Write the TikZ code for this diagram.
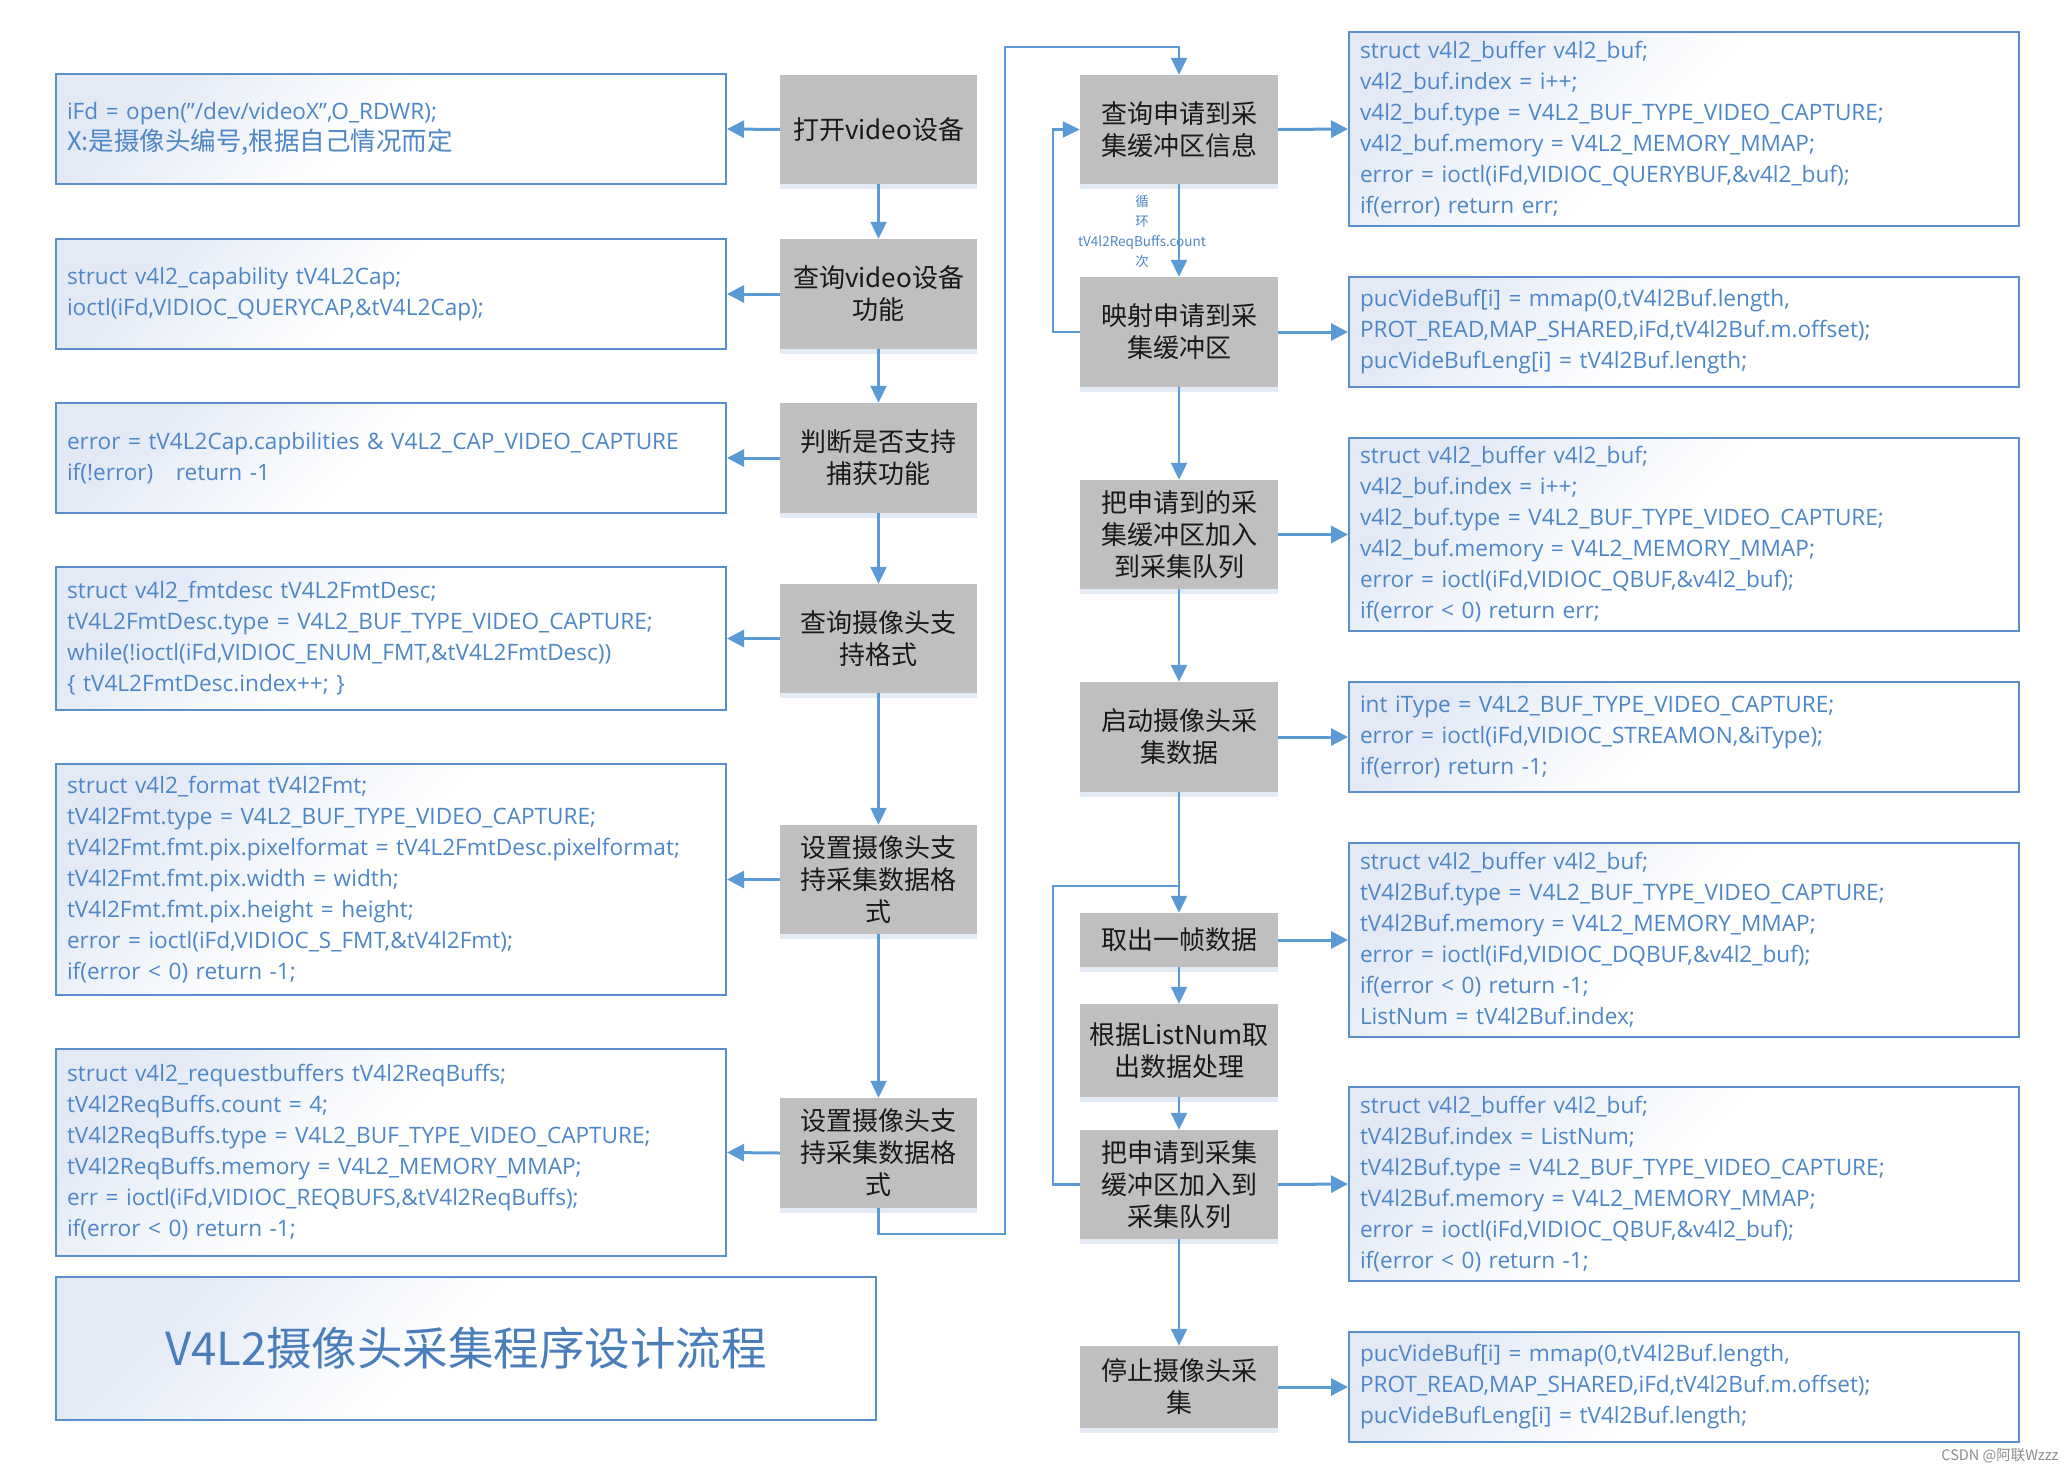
\documentclass[tikz,border=0pt]{standalone}
\usepackage{fontspec}
\setmainfont{Open Sans}
\newfontfamily\cjk{Noto Sans CJK SC}
\usetikzlibrary{arrows.meta,shadows}
\definecolor{arrowblue}{HTML}{5B9BD5}
\definecolor{codeblue}{HTML}{4F86C6}
\definecolor{borderblue}{HTML}{5B8FCB}
\definecolor{grayfill}{HTML}{BFBFBF}
\definecolor{titleblue}{HTML}{4A7EBB}
\definecolor{cgrad}{HTML}{E3EAF6}
\definecolor{shadowc}{HTML}{E4EBF5}
\pgfdeclarehorizontalshading{codegrad}{100bp}{color(0bp)=(cgrad); color(25bp)=(cgrad); color(48bp)=(white); color(100bp)=(white)}
\tikzset{
  codebox/.style={draw=borderblue, line width=2pt, shading=codegrad, shading angle=-45,
    text width=648pt, inner xsep=11pt, inner ysep=0pt, align=left, text=codeblue,
    font=\fontsize{22.6}{31}\selectfont},
  graybox/.style={fill=grayfill, draw=none, minimum width=197pt, inner sep=2pt, align=center,
    font=\cjk\fontsize{26}{32}\selectfont, text=black!90,
    drop shadow={shadow xshift=0pt, shadow yshift=-5pt, fill=shadowc, opacity=1}},
  arrh/.style={-{Triangle[length=17pt,width=17pt]}, draw=arrowblue, line width=3pt},
  arrv/.style={-{Triangle[length=17pt,width=16pt]}, draw=arrowblue, line width=2.2pt},
  lnv/.style={draw=arrowblue, line width=2.2pt},
}
\begin{document}
\begin{tikzpicture}[x=1pt,y=-1pt]
\useasboundingbox (0,0) rectangle (2071,1467);
% left code boxes
\node[codebox, minimum height=110pt] (L1) at (391,129) {iFd = open("/dev/videoX",O\_RDWR);\\{\cjk\fontsize{25.5}{31}\selectfont X:是摄像头编号,根据自己情况而定}};
\node[codebox, minimum height=110pt] (L2) at (391,294) {struct v4l2\_capability tV4L2Cap;\\ioctl(iFd,VIDIOC\_QUERYCAP,\&tV4L2Cap);};
\node[codebox, minimum height=110pt] (L3) at (391,458) {error = tV4L2Cap.capbilities \& V4L2\_CAP\_VIDEO\_CAPTURE\\if(!error)\ \ \ return -1};
\node[codebox, minimum height=143pt] (L4) at (391,638.5) {struct v4l2\_fmtdesc tV4L2FmtDesc;\\tV4L2FmtDesc.type = V4L2\_BUF\_TYPE\_VIDEO\_CAPTURE;\\while(!ioctl(iFd,VIDIOC\_ENUM\_FMT,\&tV4L2FmtDesc))\\\{ tV4L2FmtDesc.index++; \}};
\node[codebox, minimum height=231pt] (L5) at (391,879.5) {struct v4l2\_format tV4l2Fmt;\\tV4l2Fmt.type = V4L2\_BUF\_TYPE\_VIDEO\_CAPTURE;\\tV4l2Fmt.fmt.pix.pixelformat = tV4L2FmtDesc.pixelformat;\\tV4l2Fmt.fmt.pix.width = width;\\tV4l2Fmt.fmt.pix.height = height;\\error = ioctl(iFd,VIDIOC\_S\_FMT,\&tV4l2Fmt);\\if(error < 0) return -1;};
\node[codebox, minimum height=207pt] (L6) at (391,1152.5) {struct v4l2\_requestbuffers tV4l2ReqBuffs;\\tV4l2ReqBuffs.count = 4;\\tV4l2ReqBuffs.type = V4L2\_BUF\_TYPE\_VIDEO\_CAPTURE;\\tV4l2ReqBuffs.memory = V4L2\_MEMORY\_MMAP;\\err = ioctl(iFd,VIDIOC\_REQBUFS,\&tV4l2ReqBuffs);\\if(error < 0) return -1;};
% title
\node[codebox, text width=798pt, minimum height=143pt, align=center, text=titleblue, font=\cjk\fontsize{45.5}{50}\selectfont] (T) at (466,1348.5) {V4L2摄像头采集程序设计流程};
% column 1 gray boxes
\node[graybox, minimum height=109pt] (G1) at (878.5,129.5) {打开video设备};
\node[graybox, minimum height=110pt] (G2) at (878.5,294) {查询video设备\\功能};
\node[graybox, minimum height=110pt] (G3) at (878.5,458) {判断是否支持\\捕获功能};
\node[graybox, minimum height=109pt] (G4) at (878.5,638.5) {查询摄像头支\\持格式};
\node[graybox, minimum height=109pt] (G5) at (878.5,879.5) {设置摄像头支\\持采集数据格\\式};
\node[graybox, minimum height=110pt] (G6) at (878.5,1153) {设置摄像头支\\持采集数据格\\式};
% column 2 gray boxes
\node[graybox, minimum width=198pt, minimum height=109pt] (H1) at (1179,129.5) {查询申请到采\\集缓冲区信息};
\node[graybox, minimum width=198pt, minimum height=110pt] (H2) at (1179,332) {映射申请到采\\集缓冲区};
\node[graybox, minimum width=198pt, minimum height=109pt] (H3) at (1179,534.5) {把申请到的采\\集缓冲区加入\\到采集队列};
\node[graybox, minimum width=198pt, minimum height=110pt] (H4) at (1179,737) {启动摄像头采\\集数据};
\node[graybox, minimum width=198pt, minimum height=54pt] (H5) at (1179,940) {取出一帧数据};
\node[graybox, minimum width=198pt, minimum height=93pt] (H6) at (1179,1050.5) {根据ListNum取\\出数据处理};
\node[graybox, minimum width=198pt, minimum height=109pt] (H7) at (1179,1184.5) {把申请到采集\\缓冲区加入到\\采集队列};
\node[graybox, minimum width=198pt, minimum height=82pt] (H8) at (1179,1387) {停止摄像头采\\集};
% right code boxes
\node[codebox, minimum height=194pt] (R1) at (1684,129) {struct v4l2\_buffer v4l2\_buf;\\v4l2\_buf.index = i++;\\v4l2\_buf.type = V4L2\_BUF\_TYPE\_VIDEO\_CAPTURE;\\v4l2\_buf.memory = V4L2\_MEMORY\_MMAP;\\error = ioctl(iFd,VIDIOC\_QUERYBUF,\&v4l2\_buf);\\if(error) return err;};
\node[codebox, minimum height=110pt] (R2) at (1684,332) {pucVideBuf[i] = mmap(0,tV4l2Buf.length,\\PROT\_READ,MAP\_SHARED,iFd,tV4l2Buf.m.offset);\\pucVideBufLeng[i] = tV4l2Buf.length;};
\node[codebox, minimum height=193pt] (R3) at (1684,534.5) {struct v4l2\_buffer v4l2\_buf;\\v4l2\_buf.index = i++;\\v4l2\_buf.type = V4L2\_BUF\_TYPE\_VIDEO\_CAPTURE;\\v4l2\_buf.memory = V4L2\_MEMORY\_MMAP;\\error = ioctl(iFd,VIDIOC\_QBUF,\&v4l2\_buf);\\if(error < 0) return err;};
\node[codebox, minimum height=110pt] (R4) at (1684,737) {int iType = V4L2\_BUF\_TYPE\_VIDEO\_CAPTURE;\\error = ioctl(iFd,VIDIOC\_STREAMON,\&iType);\\if(error) return -1;};
\node[codebox, minimum height=194pt] (R5) at (1684,940) {struct v4l2\_buffer v4l2\_buf;\\tV4l2Buf.type = V4L2\_BUF\_TYPE\_VIDEO\_CAPTURE;\\tV4l2Buf.memory = V4L2\_MEMORY\_MMAP;\\error = ioctl(iFd,VIDIOC\_DQBUF,\&v4l2\_buf);\\if(error < 0) return -1;\\ListNum = tV4l2Buf.index;};
\node[codebox, minimum height=194pt] (R6) at (1684,1184) {struct v4l2\_buffer v4l2\_buf;\\tV4l2Buf.index = ListNum;\\tV4l2Buf.type = V4L2\_BUF\_TYPE\_VIDEO\_CAPTURE;\\tV4l2Buf.memory = V4L2\_MEMORY\_MMAP;\\error = ioctl(iFd,VIDIOC\_QBUF,\&v4l2\_buf);\\if(error < 0) return -1;};
\node[codebox, minimum height=110pt] (R7) at (1684,1387) {pucVideBuf[i] = mmap(0,tV4l2Buf.length,\\PROT\_READ,MAP\_SHARED,iFd,tV4l2Buf.m.offset);\\pucVideBufLeng[i] = tV4l2Buf.length;};
% loop label
\node[align=center, text=codeblue, font=\cjk\fontsize{13.5}{20}\selectfont, inner sep=0pt] (lbl) at (1142,231) {循\\环\\tV4l2ReqBuffs.count\\次};
% watermark
\node[text=black!45, font=\cjk\fontsize{14.5}{17}\selectfont, inner sep=0pt] (wm) at (2000,1456) {CSDN @阿联Wzzz};
% coordinates
\coordinate (k1) at (1005,1234);
\coordinate (k2) at (1005,47);
\coordinate (k4) at (1179,886);
% left arrows
\foreach \i in {1,...,6} { \draw[arrh] (G\i.west) -- (L\i.east); }
% right arrows
\foreach \a/\b in {H1/R1,H2/R2,H3/R3,H4/R4,H5/R5,H7/R6,H8/R7} { \draw[arrh] (\a.east) -- (\b.west); }
% vertical arrows column 1
\foreach \a/\b in {G1/G2,G2/G3,G3/G4,G4/G5,G5/G6} { \draw[arrv] (\a.south) -- (\b.north); }
% vertical arrows column 2
\foreach \a/\b in {H1/H2,H2/H3,H3/H4,H4/H5,H5/H6,H6/H7,H7/H8} { \draw[arrv] (\a.south) -- (\b.north); }
% connection from column 1 to column 2
\draw[arrv] (G6.south) |- (k1) |- (k2) -| (H1.north);
% loop back from H2 to H1
\draw[arrv] (H2.west) -- ++(-27,0) |- (H1.west);
% loop back from H7 to H5
\draw[lnv] (H7.west) -- ++(-27,0) |- (k4);
\end{tikzpicture}
\end{document}
